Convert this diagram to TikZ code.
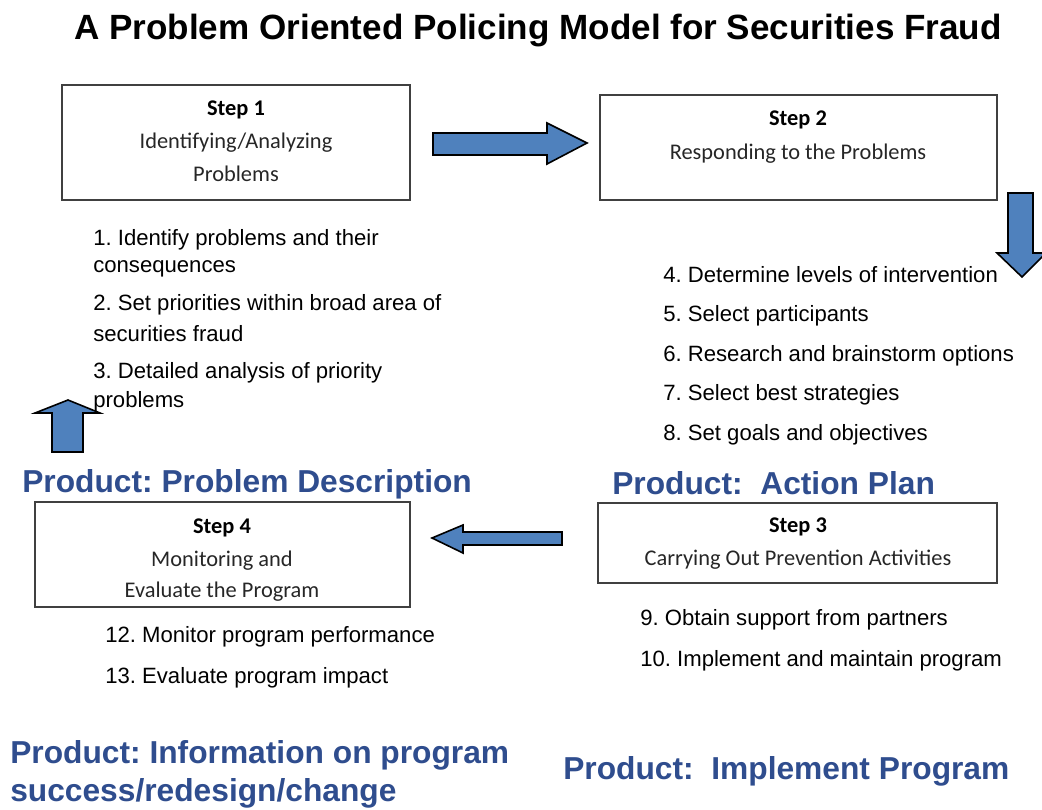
\documentclass[tikz,border=0pt]{standalone}
\usepackage{fontspec}
\setmainfont{Liberation Sans}
\newfontfamily\boxfont{Carlito}
\definecolor{prodblue}{HTML}{2F4D8E}
\definecolor{arrowblue}{HTML}{4F81BD}
\frenchspacing
\tikzset{
  every node/.append style={yshift=-2.2pt},
  stepbox/.style={draw=black!75, line width=1.5pt},
  blockarrow/.style={draw=black, fill=arrowblue, line width=1.2pt, line join=miter},
  boxtext/.style={inner sep=0pt, text=black!85, font=\boxfont\fontsize{16.8}{20}\selectfont},
  steptitle/.style={boxtext, text=black, font=\boxfont\bfseries\fontsize{16.8}{20}\selectfont},
  listitem/.style={anchor=west, inner sep=0pt, font=\fontsize{16.6}{20}\selectfont},
  product/.style={anchor=west, inner sep=0pt, text=prodblue, font=\bfseries\fontsize{23.8}{28}\selectfont},
}

\begin{document}
\begin{tikzpicture}[x=0.75pt, y=-0.75pt]
			%%%%% START %%%%%
			\useasboundingbox (0,0) rectangle (1042,810);
			
			\node[font=\bfseries\fontsize{26.3}{31}\selectfont] (title) at (538,28) {A Problem Oriented Policing Model for Securities Fraud};
			
			% step 1
			\draw[stepbox] (62,85) rectangle (410,200);
			\node[steptitle] (s1head) at (236,107) {Step 1};
			\node[boxtext] (s1a) at (236,140) {Identifying/Analyzing};
			\node[boxtext] (s1b) at (236,171) {Problems};
			
			\draw[blockarrow] (433,133) -- (547,133) -- (547,123) -- (587,143) -- (547,164) -- (547,155) -- (433,155) -- cycle;
			
			% step 2
			\draw[stepbox] (600,95) rectangle (997,200);
			\node[steptitle] (s2head) at (798,117) {Step 2};
			\node[boxtext] (s2a) at (798,151) {Responding to the Problems};
			
			\draw[blockarrow] (1008,193) -- (1033,193) -- (1033,253) -- (1046,253) -- (1022,277) -- (997,253) -- (1008,253) -- cycle;
			
			\node[listitem] (i1a) at (93,237) {1. Identify problems and their};
			\node[listitem] (i1b) at (93,266) {consequences};
			\node[listitem] (i2a) at (93,302) {2. Set priorities within broad area of};
			\node[listitem] (i2b) at (93,331) {securities fraud};
			\node[listitem] (i3a) at (93,370) {3. Detailed analysis of priority};
			\node[listitem] (i3b) at (93,399) {problems};
			
			\node[listitem] (i4) at (663,272) {4. Determine levels of intervention};
			\node[listitem] (i5) at (663,313) {5. Select participants};
			\node[listitem] (i6) at (663,353) {6. Research and brainstorm options};
			\node[listitem] (i7) at (663,392) {7. Select best strategies};
			\node[listitem] (i8) at (663,432) {8. Set goals and objectives};
			
			\draw[blockarrow] (52,452) -- (83,452) -- (83,413) -- (100,413) -- (68,400) -- (35,413) -- (52,413) -- cycle;
			
			\node[product] (p1) at (22,481) {Product: Problem Description};
			\node[product] (p2) at (612,480) {Product:\ \ Action Plan};
			
			% step 4
			\draw[stepbox] (35,502) rectangle (410,607);
			\node[steptitle] (s4head) at (222,525) {Step 4};
			\node[boxtext] (s4a) at (222,558) {Monitoring and};
			\node[boxtext] (s4b) at (222,589) {Evaluate the Program};
			
			\draw[blockarrow] (562,532) -- (463,532) -- (463,525) -- (432,538) -- (463,553) -- (463,545) -- (562,545) -- cycle;
			
			% step 3
			\draw[stepbox] (598,503) rectangle (997,583);
			\node[steptitle] (s3head) at (798,524) {Step 3};
			\node[boxtext] (s3a) at (798,557) {Carrying Out Prevention Activities};
			
			\node[listitem] (i9) at (640,617) {9. Obtain support from partners};
			\node[listitem] (i10) at (640,658) {10. Implement and maintain program};
			\node[listitem] (i12) at (105,634) {12. Monitor program performance};
			\node[listitem] (i13) at (105,675) {13. Evaluate program impact};
			
			\node[product] (p4a) at (10,752) {Product: Information on program};
			\node[product] (p4b) at (10,790) {success/redesign/change};
			\node[product] (p3) at (563,768) {Product:\ \ Implement Program};
			%%%%% END %%%%%
\end{tikzpicture}
\end{document}
